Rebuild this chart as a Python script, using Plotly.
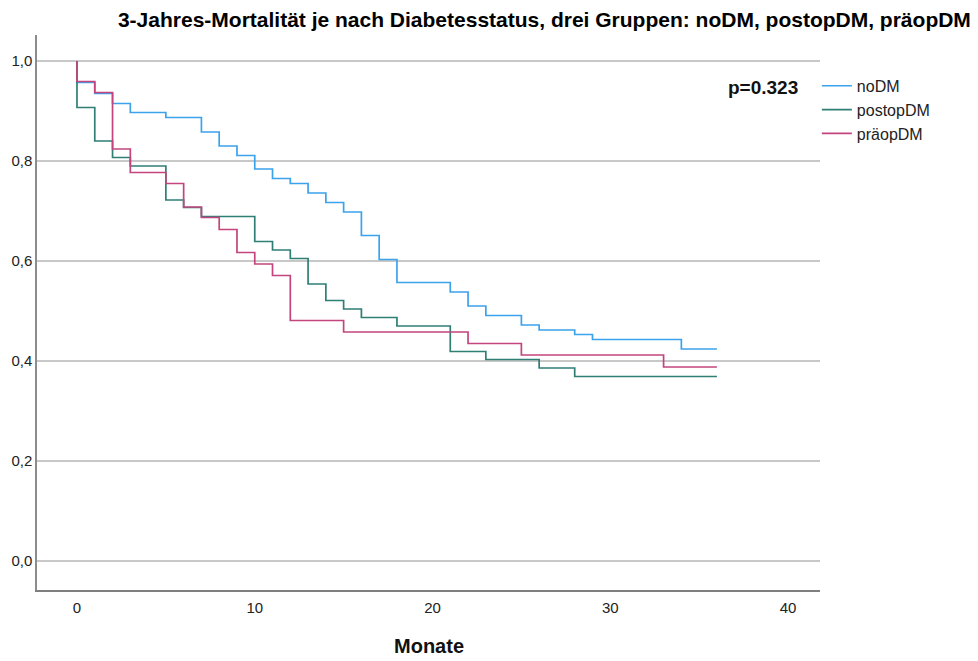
import plotly.graph_objects as go

# Data
groups = ["noDM", "postopDM", "präopDM"]

months_noDM = [0, 0, 1, 2, 3, 5, 7, 8, 9, 10, 11, 12, 13, 14, 15, 16, 17, 18, 21, 22, 23, 25, 26, 28, 29, 34, 36]
surv_noDM = [1.0, 0.957, 0.935, 0.915, 0.897, 0.887, 0.858, 0.830, 0.811, 0.784, 0.765, 0.755, 0.736, 0.717,
             0.698, 0.651, 0.603, 0.557, 0.538, 0.510, 0.491, 0.472, 0.462, 0.453, 0.443, 0.424, 0.424]

months_postopDM = [0, 0, 1, 2, 3, 5, 6, 7, 10, 11, 12, 13, 14, 15, 16, 18, 21, 23, 26, 28, 36]
surv_postopDM = [1.0, 0.907, 0.840, 0.807, 0.790, 0.722, 0.707, 0.689, 0.639, 0.622, 0.605, 0.554, 0.521,
                 0.504, 0.487, 0.470, 0.419, 0.403, 0.386, 0.369, 0.369]

months_praeopDM = [0, 0, 1, 2, 3, 5, 6, 7, 8, 9, 10, 11, 12, 15, 22, 25, 33, 36]
surv_praeopDM = [1.0, 0.959, 0.937, 0.824, 0.777, 0.755, 0.708, 0.687, 0.663, 0.617, 0.594, 0.571, 0.481,
                 0.458, 0.435, 0.412, 0.388, 0.388]

y_tickvals = [0.0, 0.2, 0.4, 0.6, 0.8, 1.0]
y_ticktext = ["0,0", "0,2", "0,4", "0,6", "0,8", "1,0"]
x_tickvals = [0, 10, 20, 30, 40]

colors = ["#3BA3EC", "#2F7F75", "#C4457D"]
series = [(months_noDM, surv_noDM), (months_postopDM, surv_postopDM), (months_praeopDM, surv_praeopDM)]

FONT = "Liberation Sans, Arial, sans-serif"

fig = go.Figure()
for name, (mx, sy), col in zip(groups, series, colors):
    fig.add_trace(go.Scatter(
        x=mx, y=sy, mode="lines", name=name,
        line=dict(color=col, width=1.7, shape="hv"),
    ))

# page body has an 8px margin -> compensate so the plot area matches the reference
fig.update_layout(
    width=970, height=653,
    paper_bgcolor="white", plot_bgcolor="white",
    margin=dict(l=29, r=158, t=27, b=71),
    font=dict(family=FONT, size=15, color="#222222"),
    title=dict(
        text="<b>3-Jahres-Mortalität je nach Diabetesstatus, drei Gruppen: noDM, postopDM, präopDM</b>",
        x=0.553, xanchor="center", y=0.982, yanchor="middle",
        font=dict(family=FONT, size=21, color="#000000"),
    ),
    legend=dict(
        x=0.996, xanchor="left", y=0.939, yanchor="top",
        font=dict(family=FONT, size=16, color="#222222"),
        itemwidth=30,
        bgcolor="rgba(0,0,0,0)",
    ),
    showlegend=True,
)

fig.update_xaxes(
    range=[-2.25, 41.8], tickvals=x_tickvals, showgrid=False, zeroline=False,
    showline=True, linecolor="#7f7f7f", linewidth=2, ticks="", ticklabelstandoff=3,
    tickfont=dict(family=FONT, size=15, color="#222222"), automargin=False,
)
fig.update_yaxes(
    range=[-0.058, 1.052], tickvals=y_tickvals, ticktext=y_ticktext,
    showgrid=True, gridcolor="#c8c8c8", gridwidth=1.5, zeroline=False,
    showline=True, linecolor="#8c8c8c", linewidth=1.5, ticks="",
    tickfont=dict(family=FONT, size=15, color="#222222"), automargin=False,
)

fig.add_annotation(
    text="<b>Monate</b>", xref="paper", yref="paper", x=0.5, y=-0.1004,
    xanchor="center", yanchor="middle", showarrow=False,
    font=dict(family=FONT, size=20, color="#111111"),
)
fig.add_annotation(
    text="<b>p=0.323</b>", xref="paper", yref="paper", x=0.9745, y=0.906,
    xanchor="right", yanchor="middle", showarrow=False,
    font=dict(family=FONT, size=19, color="#111111"),
)

fig.write_html("out.html")
